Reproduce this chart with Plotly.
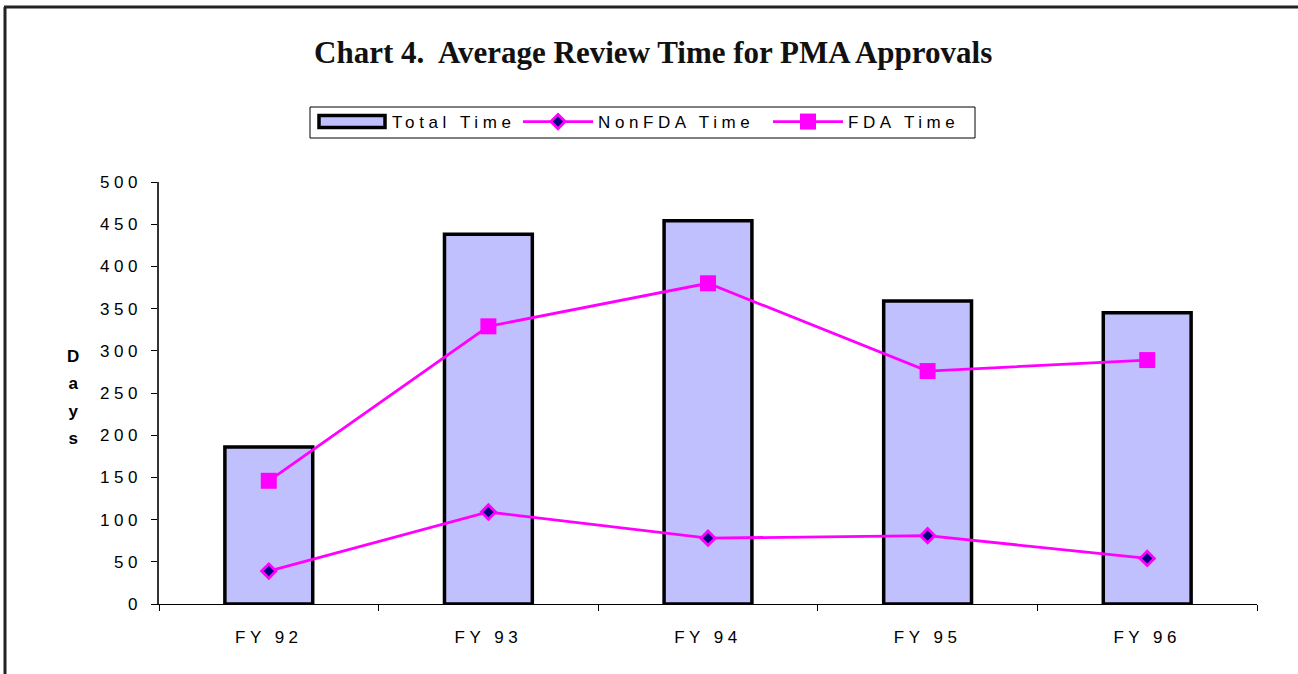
import plotly.graph_objects as go

categories = ["FY 92", "FY 93", "FY 94", "FY 95", "FY 96"]
total_time = [186, 438, 454, 359, 345]
nonfda_time = [39, 109, 78, 81, 54]
fda_time = [146, 329, 380, 276, 289]
y_ticks = [0, 50, 100, 150, 200, 250, 300, 350, 400, 450, 500]

W, H = 1298, 674
L, R, T, B = 159, 41, 182, 70
pw, ph = W - L - R, H - T - B

def px_x(px):
    return (px - L) / pw

def px_y(py):
    return (H - B - py) / ph

fig = go.Figure()
fig.add_trace(go.Bar(
    x=categories, y=total_time, name="Total Time", width=0.4, legend="legend",
    marker=dict(color="#C0C0FF", line=dict(color="black", width=3.5)),
))
fig.add_trace(go.Scatter(
    x=categories, y=nonfda_time, name="NonFDA Time", mode="lines+markers",
    legend="legend2",
    line=dict(color="#FF00FF", width=2.8),
    marker=dict(symbol="diamond", size=11, color="#000080",
                line=dict(color="#FF00FF", width=2.8)),
))
fig.add_trace(go.Scatter(
    x=categories, y=fda_time, name="FDA Time", mode="lines+markers",
    legend="legend3",
    line=dict(color="#FF00FF", width=2.8),
    marker=dict(symbol="square", size=16, color="#FF00FF",
                line=dict(color="#FF00FF", width=0)),
))

tickfont = dict(family="Liberation Sans, Arial", size=17, color="black")
legfont = dict(family="Liberation Sans, Arial", size=17, color="black")

def leg(text_start_px):
    return dict(
        orientation="h", x=px_x(text_start_px - 80), y=px_y(122),
        xanchor="left", yanchor="middle", borderwidth=0,
        bgcolor="rgba(0,0,0,0)", font=legfont, itemwidth=70,
        entrywidth=240, entrywidthmode="pixels",
    )

fig.update_layout(
    width=W, height=H,
    margin=dict(l=L, r=R, t=T, b=B, pad=0),
    paper_bgcolor="white", plot_bgcolor="white",
    showlegend=True,
    legend=leg(392),
    legend2=leg(598),
    legend3=leg(848),
    xaxis=dict(
        type="category", categoryarray=categories, range=[-0.5, 4.5],
        showline=True, linecolor="black", linewidth=1,
        ticks="outside", ticklen=6, tickcolor="black", tickwidth=1,
        tickson="boundaries", tickfont=tickfont, showgrid=False, zeroline=False,
        ticklabelstandoff=18,
    ),
    xaxis2=dict(
        overlaying="x", anchor="y", side="bottom", range=[-0.5, 4.5],
        tickvals=[-0.5, 0.5, 1.5, 2.5, 3.5, 4.5], ticks="inside", ticklen=6,
        tickcolor="black", tickwidth=1, showticklabels=False, showgrid=False,
        zeroline=False, showline=False,
    ),
    yaxis=dict(
        range=[0, 500], tickvals=y_ticks, showline=True, linecolor="#333",
        linewidth=1.5, ticks="outside", ticklen=6, tickcolor="black",
        tickfont=tickfont, showgrid=False, zeroline=False, ticklabelstandoff=6,
    ),
    bargap=0.6,
)

fig.add_annotation(
    text="<b>Chart 4.  Average Review Time for PMA Approvals</b>",
    xref="paper", yref="paper", x=px_x(653), y=px_y(53),
    xanchor="center", yanchor="middle", showarrow=False,
    font=dict(family="Liberation Serif, Times New Roman", size=31, color="#111"),
)
fig.add_annotation(
    text=("<b><span style='font-size:17px'>D</span><br>"
          "<span style='font-size:17px'>a</span><br>"
          "<span style='font-size:17px'>y</span><br>"
          "<span style='font-size:17px'>s</span></b>"),
    xref="paper", yref="paper", x=px_x(73), y=px_y(397),
    xanchor="center", yanchor="middle", showarrow=False,
    font=dict(family="Liberation Sans, Arial", size=21, color="black"),
)

# legend box
fig.add_shape(type="rect", xref="paper", yref="paper",
              x0=px_x(310), x1=px_x(975), y0=px_y(107), y1=px_y(138),
              line=dict(color="black", width=1), fillcolor="rgba(0,0,0,0)",
              layer="below")
# outer frame (top and left edges)
fig.add_shape(type="line", xref="paper", yref="paper",
              x0=px_x(4), x1=px_x(1298), y0=px_y(7), y1=px_y(7),
              line=dict(color="#222", width=3))
fig.add_shape(type="line", xref="paper", yref="paper",
              x0=px_x(5), x1=px_x(5), y0=px_y(7), y1=px_y(674),
              line=dict(color="#222", width=3))

post = """
document.body.style.margin = '0';
var st = document.createElement('style');
st.textContent = '.xtick text, .ytick text { letter-spacing: 4.5px !important; } ' +
                 '.infolayer .traces text, text.legendtext { letter-spacing: 4.6px !important; }';
document.head.appendChild(st);
var gd = document.getElementById('{plot_id}');
function fixUp() {
  var names = ['Total Time', 'NonFDA Time', 'FDA Time'];
  document.querySelectorAll('text').forEach(function(t){
    if (names.indexOf(t.textContent.trim()) >= 0) {
      t.style.setProperty('letter-spacing', '4.6px', 'important');
    }
  });
  document.querySelectorAll('.legendpoints path').forEach(function(p){
    var d = p.getAttribute('d') || '';
    if (d.replace(/\\s/g,'') === 'M6,6H-6V-6H6Z') {
      p.setAttribute('d', 'M33,6H-33V-6H33Z');
    }
  });
}
fixUp();
setTimeout(fixUp, 30);
setTimeout(fixUp, 200);
"""

fig.write_html("out.html", post_script=post, config={"displayModeBar": False})
